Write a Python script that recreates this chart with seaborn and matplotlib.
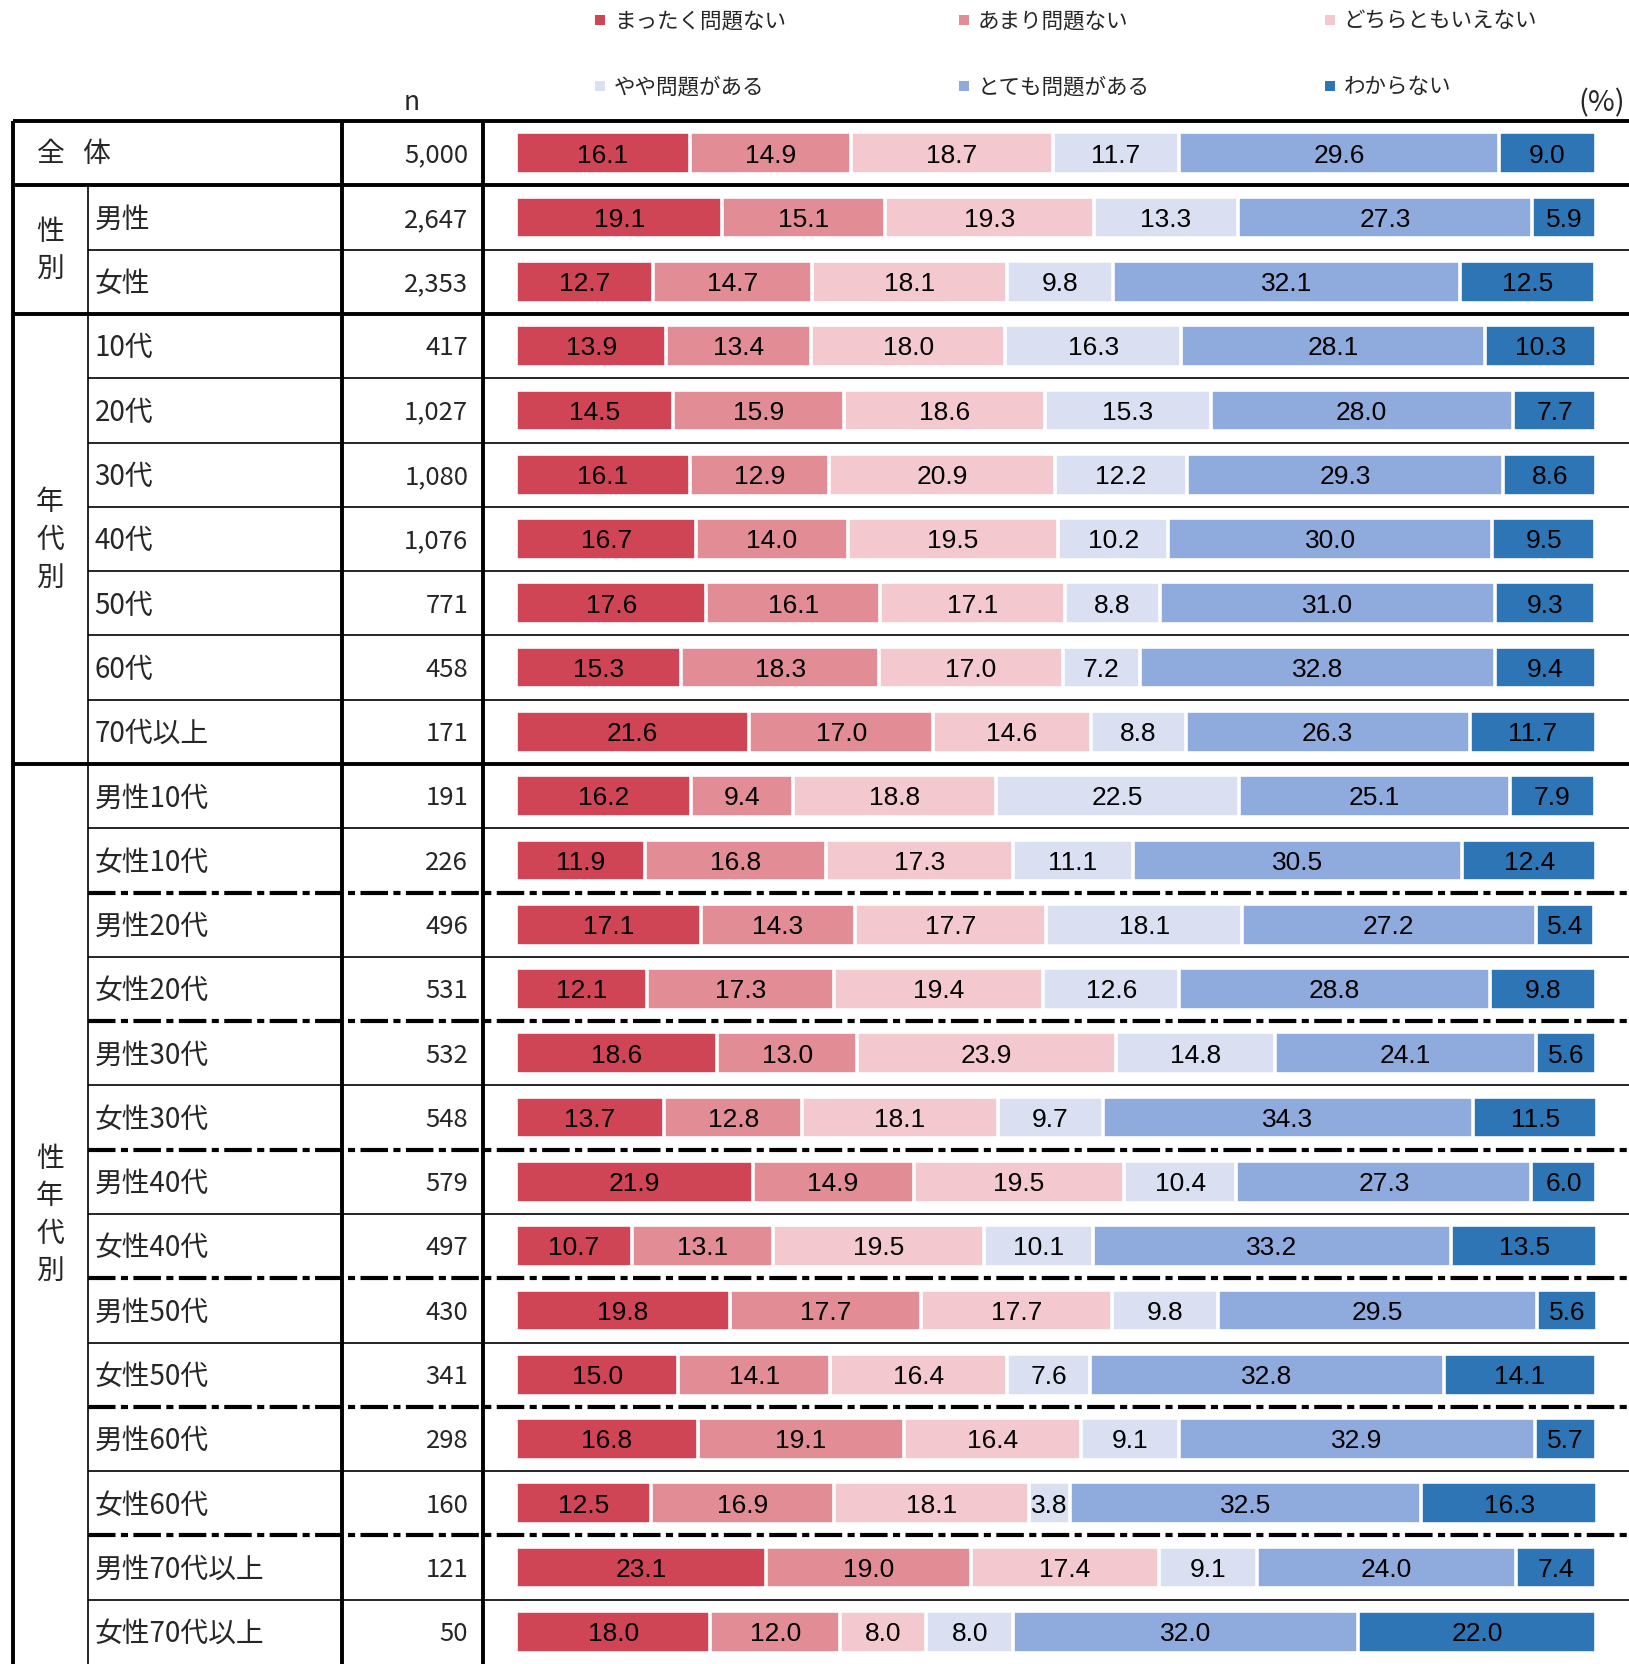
import numpy as np
import pandas as pd
import matplotlib
matplotlib.use("Agg")
import matplotlib.pyplot as plt
import seaborn as sns
from matplotlib import font_manager, transforms
from matplotlib.patches import Rectangle
from matplotlib.lines import Line2D

# ---------------- data ----------------
rows = ["全体", "男性", "女性",
        "10代", "20代", "30代", "40代", "50代", "60代", "70代以上",
        "男性10代", "女性10代", "男性20代", "女性20代", "男性30代", "女性30代",
        "男性40代", "女性40代", "男性50代", "女性50代", "男性60代", "女性60代",
        "男性70代以上", "女性70代以上"]
n_values = [5000, 2647, 2353, 417, 1027, 1080, 1076, 771, 458, 171,
            191, 226, 496, 531, 532, 548, 579, 497, 430, 341, 298, 160, 121, 50]

categories = ["まったく問題ない", "あまり問題ない", "どちらともいえない",
              "やや問題がある", "とても問題がある", "わからない"]

mattaku = [16.1, 19.1, 12.7, 13.9, 14.5, 16.1, 16.7, 17.6, 15.3, 21.6,
           16.2, 11.9, 17.1, 12.1, 18.6, 13.7, 21.9, 10.7, 19.8, 15.0, 16.8, 12.5, 23.1, 18.0]
amari = [14.9, 15.1, 14.7, 13.4, 15.9, 12.9, 14.0, 16.1, 18.3, 17.0,
         9.4, 16.8, 14.3, 17.3, 13.0, 12.8, 14.9, 13.1, 17.7, 14.1, 19.1, 16.9, 19.0, 12.0]
dochira = [18.7, 19.3, 18.1, 18.0, 18.6, 20.9, 19.5, 17.1, 17.0, 14.6,
           18.8, 17.3, 17.7, 19.4, 23.9, 18.1, 19.5, 19.5, 17.7, 16.4, 16.4, 18.1, 17.4, 8.0]
yaya = [11.7, 13.3, 9.8, 16.3, 15.3, 12.2, 10.2, 8.8, 7.2, 8.8,
        22.5, 11.1, 18.1, 12.6, 14.8, 9.7, 10.4, 10.1, 9.8, 7.6, 9.1, 3.8, 9.1, 8.0]
totemo = [29.6, 27.3, 32.1, 28.1, 28.0, 29.3, 30.0, 31.0, 32.8, 26.3,
          25.1, 30.5, 27.2, 28.8, 24.1, 34.3, 27.3, 33.2, 29.5, 32.8, 32.9, 32.5, 24.0, 32.0]
wakaranai = [9.0, 5.9, 12.5, 10.3, 7.7, 8.6, 9.5, 9.3, 9.4, 11.7,
             7.9, 12.4, 5.4, 9.8, 5.6, 11.5, 6.0, 13.5, 5.6, 14.1, 5.7, 16.3, 7.4, 22.0]

colors = ["#D04556", "#E28D96", "#F3C9CF", "#DAE0F2", "#8FAADC", "#2E75B6"]

groups = [("性別", 1, 2), ("年代別", 3, 9), ("性年代別", 10, 23)]

# ---------------- style ----------------
sns.set_theme(style="white")
plt.rcParams["font.family"] = ["Noto Sans CJK JP", "DejaVu Sans"]

available = {f.name for f in font_manager.fontManager.ttflist}
if "Liberation Sans Narrow" in available:
    num_family = ["Liberation Sans Narrow", "DejaVu Sans"]
    num_size = 22
else:
    num_family = ["Liberation Sans", "DejaVu Sans"]
    num_size = 19

W, H = 1629, 1665
fig = plt.figure(figsize=(W / 100, H / 100), dpi=100)
top_px = 122.1
ax = fig.add_axes([0, 0, 1, 1 - top_px / H])

bar_left_px = 516.1
pct_px = 10.8

series = [mattaku, amari, dochira, yaya, totemo, wakaranai]
df = pd.DataFrame({"row": rows})
cum = np.zeros(len(rows))
starts = []
for k, s in enumerate(series):
    starts.append(cum.copy())
    cum = cum + np.array(s)
    df[f"c{k}"] = cum

for k in reversed(range(len(series))):
    sns.barplot(data=df, x=f"c{k}", y="row", order=rows, orient="h",
                color=colors[k], saturation=1, width=0.65,
                edgecolor="white", linewidth=2.6, errorbar=None, ax=ax)

# values in bars
for k, s in enumerate(series):
    for i, v in enumerate(s):
        ax.text(starts[k][i] + v / 2, i + 0.02, f"{v:.1f}", ha="center", va="center",
                fontsize=num_size, family=num_family, color="black")

trans = transforms.blended_transform_factory(fig.transFigure, ax.transData)

def hline(y, x0, x1, lw, ls="-"):
    ax.add_line(Line2D([x0 / W, x1 / W], [y, y], transform=trans, color="black",
                       lw=lw, linestyle=ls, clip_on=False, solid_capstyle="butt"))

def vline(x, y0, y1, lw):
    ax.add_line(Line2D([x / W, x / W], [y0, y1], transform=trans, color="black",
                       lw=lw, clip_on=False, solid_capstyle="butt"))

x_left, x_div, x_lab, x_n = 12.7, 88.1, 342.0, 483.2
thick, thin = 2.8, 1.2
N = len(rows)
for y in [-0.5, 0.5, 2.5, 9.5]:
    hline(y, x_left, W, thick)
thin_ys = [1.5] + [i + 0.5 for i in range(3, 9)] + [i + 0.5 for i in range(10, 23, 2)]
for y in thin_ys:
    hline(y, x_div, W, thin)
for y in [i + 0.5 for i in range(11, 22, 2)]:
    hline(y, x_div, W, 3.0, ls=(0, (6.6, 1.3, 1.7, 1.3)))
vline(x_left, -0.5, N - 0.5, thick)
vline(x_div, 0.5, N - 0.5, thin)
vline(x_lab, -0.5, N - 0.5, thick)
vline(x_n, -0.5, N - 0.5, thick)

# row labels and n
lab_fs = 20
n_fs = 18.5
for i, (r, nv) in enumerate(zip(rows, n_values)):
    if i == 0:
        ax.text(37 / W, i, "全", transform=trans, ha="left", va="center", fontsize=lab_fs)
        ax.text(82 / W, i, "体", transform=trans, ha="left", va="center", fontsize=lab_fs)
    else:
        ax.text(94.5 / W, i + 0.02, r, transform=trans, ha="left", va="center", fontsize=lab_fs)
    ax.text(468.3 / W, i + 0.02, f"{nv:,}", transform=trans, ha="right", va="center", fontsize=n_fs)

for name, a, b in groups:
    c = (a + b) / 2
    m = len(name)
    for j, ch in enumerate(name):
        ax.text(50 / W, c + (j - (m - 1) / 2) * 0.583, ch, transform=trans,
                ha="center", va="center", fontsize=lab_fs)

ax.set_xlim(-bar_left_px / pct_px, (W - bar_left_px) / pct_px)
ax.set_ylim(N - 0.5, -0.5)
ax.set_axis_off()

# header
fig.text(412 / W, 1 - 103 / H, "n", ha="center", va="center", fontsize=19)
fig.text(1625 / W, 1 - 103 / H, "(%)", ha="right", va="center", fontsize=21)

leg_x = [600, 964, 1329.5]
leg_y = [21.2, 87]
for k, cat in enumerate(categories):
    cx = leg_x[k % 3]
    cy = leg_y[k // 3]
    fig.add_artist(Rectangle(((cx - 5) / W, 1 - (cy + 5) / H), 10 / W, 10 / H,
                             transform=fig.transFigure, color=colors[k], lw=0))
    fig.text((cx + 14) / W, 1 - cy / H, cat, ha="left", va="center", fontsize=15.5)

fig.savefig("out.png", dpi=100)
